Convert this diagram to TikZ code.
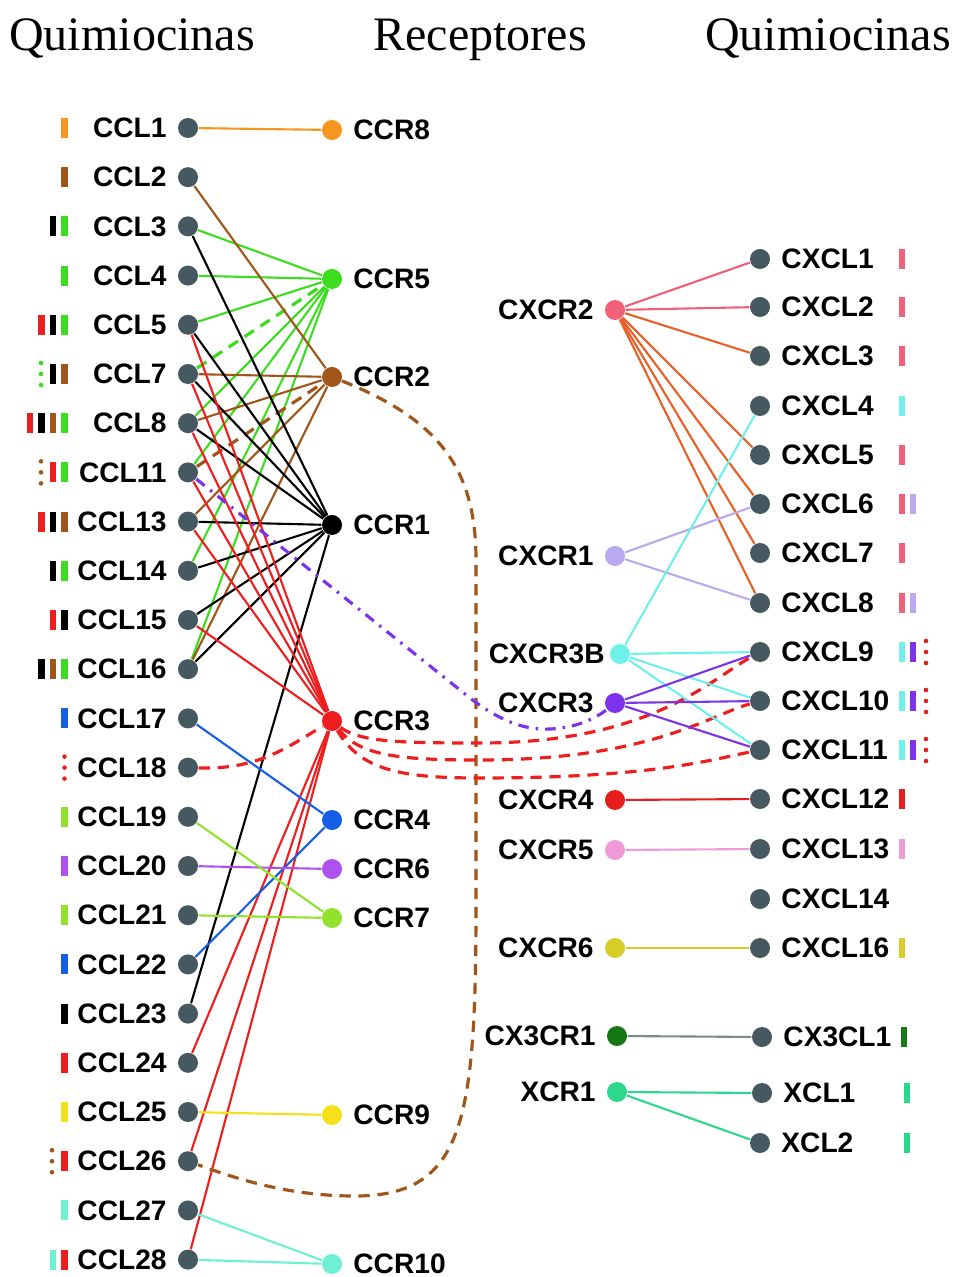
\documentclass[tikz,border=0pt]{standalone}
\usepackage{fontspec}
\setmainfont{Liberation Serif}
\newfontfamily\labfont{Liberation Sans}
\usetikzlibrary{backgrounds}
\definecolor{dotgray}{RGB}{70,88,96}
\definecolor{cOr}{RGB}{246,150,30}
\definecolor{cGr}{RGB}{60,220,30}
\definecolor{cBr}{RGB}{160,85,25}
\definecolor{cRd}{RGB}{238,30,30}
\definecolor{cBl}{RGB}{20,95,230}
\definecolor{cPu}{RGB}{175,80,240}
\definecolor{cYg}{RGB}{145,225,45}
\definecolor{cYe}{RGB}{245,225,25}
\definecolor{cAq}{RGB}{110,240,210}
\definecolor{xPk}{RGB}{240,96,120}
\definecolor{xOr}{RGB}{232,95,40}
\definecolor{xCy}{RGB}{110,240,235}
\definecolor{xLv}{RGB}{185,170,240}
\definecolor{xVi}{RGB}{125,50,235}
\definecolor{xRd}{RGB}{232,30,30}
\definecolor{xPi}{RGB}{240,155,215}
\definecolor{xOl}{RGB}{215,205,40}
\definecolor{xDg}{RGB}{20,120,20}
\definecolor{xTe}{RGB}{45,215,140}
\definecolor{xGy}{RGB}{120,140,140}
\newcommand{\mbar}[3]{\fill[#3] (#1-3.4,#2-10) rectangle (#1+3.4,#2+10);}
\newcommand{\mdots}[3]{\fill[#3] (#1,#2-11) circle[radius=2.3pt*0+0.023cm] (#1,#2) circle[radius=0.023cm] (#1,#2+11) circle[radius=0.023cm];}
\begin{document}
\begin{tikzpicture}[x=0.01cm,y=-0.01cm,
  cdot/.style={circle, fill=dotgray, minimum size=0.2cm, inner sep=0pt},
  rdot/.style={circle, fill=#1, minimum size=0.2cm, inner sep=0pt},
  lab/.style={font=\labfont\bfseries\fontsize{8}{9}\selectfont, inner sep=0pt, text=black},
  lleft/.style={label={[lab,label distance=0.1cm]left:#1}},
  lright/.style={label={[lab,label distance=0.1cm]right:#1}},
  ttl/.style={font=\fontsize{13.66}{16}\selectfont, inner sep=0pt, anchor=base},
  ln/.style={draw=#1, line width=0.6pt},
  dsh/.style={line width=0.9pt, dash pattern=on 3.2pt off 2.2pt},
  dshdot/.style={line width=0.9pt, dash pattern=on 3pt off 2pt on 0.7pt off 2pt}]
\useasboundingbox (0,0) rectangle (955,1277);
% titles
\node[ttl] (t1) at (132,51) {Quimiocinas};
\node[ttl] (t2) at (480,51) {Receptores};
\node[ttl] (t3) at (828,51) {Quimiocinas};
% left chemokines
\foreach \n [count=\i from 0] in {1,2,3,4,5,7,8,11,13,14,15,16,17,18,19,20,21,22,23,24,25,26,27,28}
  \node[cdot, lleft={CCL\n}] (CCL\n) at (188,128+49.2*\i) {};
% CC receptors
\node[rdot=cOr, lright=CCR8] (CCR8) at (332,130) {};
\node[rdot=cGr, lright=CCR5] (CCR5) at (332,279) {};
\node[rdot=cBr, lright=CCR2] (CCR2) at (332,377) {};
\node[rdot=black, lright=CCR1] (CCR1) at (332,525) {};
\node[rdot=cRd, lright=CCR3] (CCR3) at (332,721) {};
\node[rdot=cBl, lright=CCR4] (CCR4) at (332,820) {};
\node[rdot=cPu, lright=CCR6] (CCR6) at (332,869) {};
\node[rdot=cYg, lright=CCR7] (CCR7) at (332,918) {};
\node[rdot=cYe, lright=CCR9] (CCR9) at (332,1115) {};
\node[rdot=cAq, lright=CCR10] (CCR10) at (332,1264) {};
% right chemokines
\foreach \n/\y in {1/259,2/307,3/356,4/406,5/455,6/504,7/553,8/603,9/652,10/701,11/750,12/799,13/849,14/899,16/948}
  \node[cdot, lright={CXCL\n}] (CXCL\n) at (760,\y) {};
\node[cdot, lright=CX3CL1] (CX3CL1) at (762,1037) {};
\node[cdot, lright=XCL1] (XCL1) at (762,1093) {};
\node[cdot, lright=XCL2] (XCL2) at (760,1143) {};
% CXC receptors
\node[rdot=xPk, lleft=CXCR2] (CXCR2) at (615,310) {};
\node[rdot=xLv, lleft=CXCR1] (CXCR1) at (615,556) {};
\node[rdot=xCy, label={[lab,label distance=0.04cm]left:CXCR3B}] (CXCR3B) at (620,654) {};
\node[rdot=xVi, lleft=CXCR3] (CXCR3) at (615,703) {};
\node[rdot=xRd, lleft=CXCR4] (CXCR4) at (615,800) {};
\node[rdot=xPi, lleft=CXCR5] (CXCR5) at (615,850) {};
\node[rdot=xOl, lleft=CXCR6] (CXCR6) at (615,948) {};
\node[rdot=xDg, lleft=CX3CR1] (CX3CR1) at (617,1036) {};
\node[rdot=xTe, lleft=XCR1] (XCR1) at (617,1092) {};
% markers left
\mbar{64.5}{128}{cOr}
\mbar{64.5}{177.2}{cBr}
\mbar{53}{226.4}{black}\mbar{64.5}{226.4}{cGr}
\mbar{64.5}{275.6}{cGr}
\mbar{41.5}{324.8}{cRd}\mbar{53}{324.8}{black}\mbar{64.5}{324.8}{cGr}
\mdots{41}{374}{cGr}\mbar{53}{374}{black}\mbar{64.5}{374}{cBr}
\mbar{30}{423.2}{cRd}\mbar{41.5}{423.2}{black}\mbar{53}{423.2}{cBr}\mbar{64.5}{423.2}{cGr}
\mdots{41}{472.4}{cBr}\mbar{53}{472.4}{cRd}\mbar{64.5}{472.4}{cGr}
\mbar{41.5}{521.6}{cRd}\mbar{53}{521.6}{black}\mbar{64.5}{521.6}{cBr}
\mbar{53}{570.8}{black}\mbar{64.5}{570.8}{cGr}
\mbar{53}{620}{cRd}\mbar{64.5}{620}{black}
\mbar{41.5}{669.2}{black}\mbar{53}{669.2}{cBr}\mbar{64.5}{669.2}{cGr}
\mbar{64.5}{718.4}{cBl}
\mdots{64.5}{767.6}{cRd}
\mbar{64.5}{816.8}{cYg}
\mbar{64.5}{866}{cPu}
\mbar{64.5}{915.2}{cYg}
\mbar{64.5}{964.4}{cBl}
\mbar{64.5}{1013.6}{black}
\mbar{64.5}{1062.8}{cRd}
\mbar{64.5}{1112}{cYe}
\mdots{52}{1161.2}{cBr}\mbar{64.5}{1161.2}{cRd}
\mbar{64.5}{1210.4}{cAq}
\mbar{53}{1259.6}{cAq}\mbar{64.5}{1259.6}{cRd}
% markers right
\foreach \y in {259,307,356,455,553} {\mbar{902}{\y}{xPk}}
\mbar{902}{406}{xCy}
\mbar{902}{504}{xPk}\mbar{913}{504}{xLv}
\mbar{902}{603}{xPk}\mbar{913}{603}{xLv}
\foreach \y in {652,701,750} {\mbar{902}{\y}{xCy}\mbar{913}{\y}{xVi}\mdots{926}{\y}{xRd}}
\mbar{902}{799}{xRd}
\mbar{902}{849}{xPi}
\mbar{902}{948}{xOl}
\mbar{904}{1037}{xDg}
\mbar{907}{1093}{xTe}
\mbar{907}{1143}{xTe}
% edges
\begin{scope}[on background layer]
\fill[white] (0,0) rectangle (955,1277);
\draw[ln=cOr] (CCL1) -- (CCR8);
\foreach \a in {3,4,5,8,11,14,16} \draw[ln=cGr] (CCL\a) -- (CCR5);
\draw[cGr, dsh] (CCL7) -- (CCR5);
\foreach \a in {2,7,8,13,16} \draw[ln=cBr] (CCL\a) -- (CCR2);
\draw[cBr, dsh] (CCL11) -- (CCR2);
\foreach \a in {3,5,7,8,13,14,15,16,23} \draw[ln=black] (CCL\a) -- (CCR1);
\foreach \a in {5,7,8,11,13,15,24,26,28} \draw[ln=cRd] (CCL\a) -- (CCR3);
\draw[ln=cBl] (CCL17) -- (CCR4);
\draw[ln=cBl] (CCL22) -- (CCR4);
\draw[ln=cPu] (CCL20) -- (CCR6);
\draw[ln=cYg] (CCL19) -- (CCR7);
\draw[ln=cYg] (CCL21) -- (CCR7);
\draw[ln=cYe] (CCL25) -- (CCR9);
\draw[ln=cAq] (CCL27) -- (CCR10);
\draw[ln=cAq] (CCL28) -- (CCR10);
\draw[cRd, dsh] (CCL18) .. controls (260,770) and (290,745) .. (CCR3);
\draw[cBr, dsh] (CCR2) .. controls (440,420) and (476,470) .. (476,560) -- (476,900)
   .. controls (476,1120) and (465,1196) .. (355,1196) .. controls (290,1196) and (240,1180) .. (CCL26);
\draw[xVi, dshdot] (CCL11) -- (470,698) .. controls (505,725) and (530,730) .. (550,729)
   .. controls (580,728) and (600,715) .. (CXCR3);
\draw[cRd, dsh] (CCR3) .. controls (360,742) and (400,743) .. (480,743) .. controls (650,743) and (710,680) .. (CXCL9);
\draw[cRd, dsh] (CCR3) .. controls (360,756) and (400,760) .. (480,760) .. controls (650,760) and (710,715) .. (CXCL10);
\draw[cRd, dsh] (CCR3) .. controls (360,770) and (400,778) .. (480,778) .. controls (650,778) and (710,760) .. (CXCL11);
\draw[ln=xPk] (CXCR2) -- (CXCL1);
\draw[ln=xPk] (CXCR2) -- (CXCL2);
\foreach \b in {3,5,6,7,8} \draw[ln=xOr] (CXCR2) -- (CXCL\b);
\draw[ln=xLv] (CXCR1) -- (CXCL6);
\draw[ln=xLv] (CXCR1) -- (CXCL8);
\foreach \b in {4,9,10,11} \draw[ln=xCy] (CXCR3B) -- (CXCL\b);
\foreach \b in {9,10,11} \draw[ln=xVi] (CXCR3) -- (CXCL\b);
\draw[ln=xRd] (CXCR4) -- (CXCL12);
\draw[ln=xPi] (CXCR5) -- (CXCL13);
\draw[ln=xOl] (CXCR6) -- (CXCL16);
\draw[ln=xGy] (CX3CR1) -- (CX3CL1);
\draw[ln=xTe] (XCR1) -- (XCL1);
\draw[ln=xTe] (XCR1) -- (XCL2);
\end{scope}
\end{tikzpicture}
\end{document}
